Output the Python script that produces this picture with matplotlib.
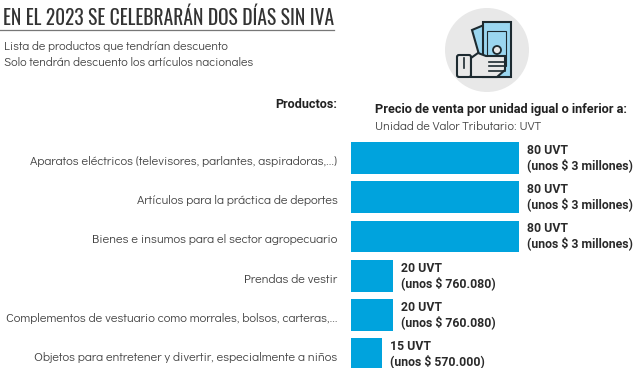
import matplotlib
matplotlib.use('Agg')
import matplotlib.pyplot as plt
from matplotlib.patches import Circle, Polygon, FancyBboxPatch

# values
productos = ['Aparatos eléctricos (televisores, parlantes, aspiradoras,...)',
             'Artículos para la práctica de deportes',
             'Bienes e insumos para el sector agropecuario',
             'Prendas de vestir',
             'Complementos de vestuario como morrales, bolsos, carteras,...',
             'Objetos para entretener y divertir, especialmente a niños']
uvt = [80, 80, 80, 20, 20, 15]
pesos = ['unos $ 3 millones', 'unos $ 3 millones', 'unos $ 3 millones',
         'unos $ 760.080', 'unos $ 760.080', 'unos $ 570.000']

W, H = 640, 368
AZUL = '#00a3dd'
GRIS = '#444444'
TINTA = '#1d2a30'
FONDO = '#e8e8e8'
CLARO = '#9ad6f0'
# the first family of each list is not promised everywhere, so keep a fallback
TITULO = ['Oswald', 'DejaVu Sans']
CUERPO = ['Didact Gothic', 'Roboto']
NEGRITA = ['Roboto', 'DejaVu Sans']

fig = plt.figure(figsize=(6.4, 3.68), dpi=100)

# overlay in pixel coordinates for the text and the icon
bg = fig.add_axes([0, 0, 1, 1])
bg.set_xlim(0, W)
bg.set_ylim(H, 0)
bg.axis('off')

bg.text(3, 25, 'EN EL 2023 SE CELEBRARÁN DOS DÍAS SIN IVA', family=TITULO,
        fontsize=14, color='#333333', va='baseline')
bg.plot([0, 334], [29.5, 29.5], color='#777777', lw=0.9)
bg.text(4, 50, 'Lista de productos que tendrían descuento', family=CUERPO,
        fontsize=8.9, color=GRIS, va='baseline')
bg.text(4, 66, 'Solo tendrán descuento los artículos nacionales', family=CUERPO,
        fontsize=8.9, color=GRIS, va='baseline')
bg.text(337, 107.5, 'Productos:', family=NEGRITA, weight='bold', fontsize=9.1, color='#222222',
        ha='right', va='baseline')
bg.text(375, 112.5, 'Precio de venta por unidad igual o inferior a:', family=NEGRITA, weight='bold',
        fontsize=9.2, color='#222222', va='baseline')
bg.text(375, 130, 'Unidad de Valor Tributario: UVT', family=CUERPO,
        fontsize=8.9, color=GRIS, va='baseline')

# icon
bg.add_patch(Circle((487, 50), 42, fc=FONDO, ec='none'))
bg.add_patch(Polygon([(472, 30), (484, 25), (492, 56), (480, 58)], fc=CLARO, ec=TINTA, lw=1.5))
bg.add_patch(Polygon([(483, 22), (511, 22), (511, 77), (483, 77)], fc=CLARO, ec=TINTA, lw=1.5))
bg.add_patch(Polygon([(487, 31), (506, 31), (506, 66), (487, 66)], fc='none', ec=TINTA, lw=0.8))
bg.add_patch(Circle((497, 50), 4, fc=FONDO, ec=TINTA, lw=1.3))
bg.add_patch(FancyBboxPatch((457, 55), 14, 22, boxstyle='round,pad=0,rounding_size=2',
                            fc=FONDO, ec=TINTA, lw=1.5))
bg.add_patch(Polygon([(471, 58), (478, 53), (486, 56), (505, 56), (505, 70), (497, 77), (471, 77)],
                     fc=FONDO, ec=TINTA, lw=1.5))
for y in [62, 66, 71]:
    bg.plot([489, 505], [y, y], color=TINTA, lw=1.2)
bg.plot([463.5, 463.5], [58, 68], color=TINTA, lw=1.2)

# bars, scaled so 80 UVT is 168.5 px wide and rows are 39.3 px apart
ax = fig.add_axes([350.5 / W, 1 - 374 / H, 168.5 / W, 235.8 / H])
ax.patch.set_alpha(0)
pos = list(range(len(uvt)))
ax.barh(pos, uvt, height=0.81, color=AZUL)
ax.set_xlim(0, 80)
ax.set_ylim(5.5, -0.5)
ax.axis('off')

for i in pos:
    ax.annotate(f'{uvt[i]} UVT\n({pesos[i]})', (uvt[i], i), xytext=(8, 0), textcoords='offset pixels',
                family=NEGRITA, weight='bold', fontsize=8.85, color='#2a2a2a', va='center',
                linespacing=1.13, annotation_clip=False)
    ax.annotate(productos[i], (0, i), xytext=(-13, -3.5), textcoords='offset pixels',
                family=CUERPO, fontsize=9.15, color=GRIS, va='center', ha='right',
                annotation_clip=False)

fig.savefig('out.png', dpi=100)
